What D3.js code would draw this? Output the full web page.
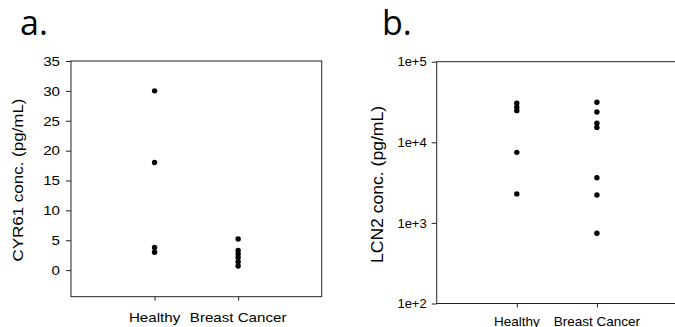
<!DOCTYPE html>
<html><head><meta charset="utf-8">
<script src="https://cdn.jsdelivr.net/npm/d3@7"></script>
<style>body{margin:0;background:#fff}svg{display:block}</style>
</head><body>
<svg id="c" width="675" height="327"></svg>
<script>
const categories = ["Healthy", "Breast Cancer"];
const cyr61Healthy = [30, 18, 3.8, 3.0];
const cyr61Cancer = [5.2, 3.3, 2.7, 2.1, 1.4, 0.7];
const lcn2Healthy = [30500, 27200, 24700, 7500, 2290];
const lcn2Cancer = [31400, 23800, 17200, 15300, 3640, 2220, 743];
const cyr61Ticks = [0, 5, 10, 15, 20, 25, 30, 35];
const lcn2Ticks = [1e2, 1e3, 1e4, 1e5];
const lcn2TickLabels = ["1e+2", "1e+3", "1e+4", "1e+5"];

const svg = d3.select("#c");
const FONT = "Liberation Sans, Arial, sans-serif";
const LINE = "#222";

function stretch(sel, k) {
  sel.each(function () {
    const w = this.getComputedTextLength();
    d3.select(this).attr("textLength", w * k).attr("lengthAdjust", "spacingAndGlyphs");
  });
}

function panel(o) {
  const g = svg.append("g");
  const x = d3.scalePoint().domain(categories).range([o.left, o.right]).padding(1);
  const y = o.y;
  g.append("rect").attr("x", o.left).attr("y", o.top)
    .attr("width", o.right - o.left).attr("height", o.bottom - o.top)
    .attr("fill", "none").attr("stroke", LINE).attr("stroke-width", 1);
  const ya = g.append("g").attr("transform", `translate(${o.left},0)`)
    .call(d3.axisLeft(y).tickValues(o.ticks).tickFormat(o.fmt).tickSize(o.yTick).tickPadding(o.yPad));
  ya.select(".domain").remove();
  ya.selectAll("line").attr("stroke", LINE);
  ya.selectAll("text").attr("font-family", FONT).attr("font-size", o.tickFs).attr("fill", "#000");
  if (o.k !== 1) stretch(ya.selectAll("text"), o.k);
  const xa = g.append("g").attr("transform", `translate(0,${o.bottom})`)
    .call(d3.axisBottom(x).tickSize(o.xTick).tickFormat(""));
  xa.select(".domain").remove();
  xa.selectAll("line").attr("stroke", LINE);
  const xl = g.selectAll(".xl").data(categories).join("text")
    .attr("x", d => x(d)).attr("y", o.xLabY)
    .attr("text-anchor", "middle").attr("font-family", FONT)
    .attr("font-size", o.xFs).attr("fill", "#000").text(d => d);
  if (o.k !== 1) stretch(xl, o.k);
  const yl = g.append("text")
    .attr("transform", `translate(${o.yLabX},${o.yLabY}) rotate(-90)`)
    .attr("text-anchor", "middle").attr("font-family", FONT)
    .attr("font-size", o.labFs).attr("fill", "#000").text(o.label);
  yl.attr("textLength", o.labLen).attr("lengthAdjust", "spacingAndGlyphs");
  const pts = [];
  o.data.forEach((arr, i) => arr.forEach(v => pts.push({c: categories[i], v})));
  g.selectAll(".dot").data(pts).join("circle")
    .attr("cx", d => x(d.c)).attr("cy", d => y(d.v)).attr("r", 2.7).attr("fill", "#000");
  svg.append("text").attr("x", o.titleX).attr("y", 35)
    .attr("font-family", "Open Sans, sans-serif").attr("font-size", 34)
    .attr("fill", "#000").text(o.title);
}

const ya = d3.scaleLinear().domain([-4.45, 35]).range([296.7, 61]);
panel({
  left: 71, right: 321.7, top: 61, bottom: 296.7, y: ya,
  ticks: cyr61Ticks, fmt: d3.format("d"), yTick: 5, yPad: 6, tickFs: 13.5, k: 1.12,
  xTick: 4, xLabY: 322, xFs: 13.5,
  label: "CYR61 conc. (pg/mL)", labFs: 15.5, labLen: 163, yLabX: 23, yLabY: 180,
  data: [cyr61Healthy, cyr61Cancer], title: "a.", titleX: 20
});

const yb = d3.scaleLog().domain([1e2, 1e5]).range([303.5, 61.7]);
panel({
  left: 436.7, right: 677, top: 61.7, bottom: 303.5, y: yb,
  ticks: lcn2Ticks, fmt: (d, i) => lcn2TickLabels[i], yTick: 5, yPad: 5, tickFs: 13, k: 1,
  xTick: 4, xLabY: 325.5, xFs: 13.5,
  label: "LCN2 conc. (pg/mL)", labFs: 16, labLen: 157, yLabX: 383, yLabY: 184.5,
  data: [lcn2Healthy, lcn2Cancer], title: "b.", titleX: 382
});
</script>
</body></html>
